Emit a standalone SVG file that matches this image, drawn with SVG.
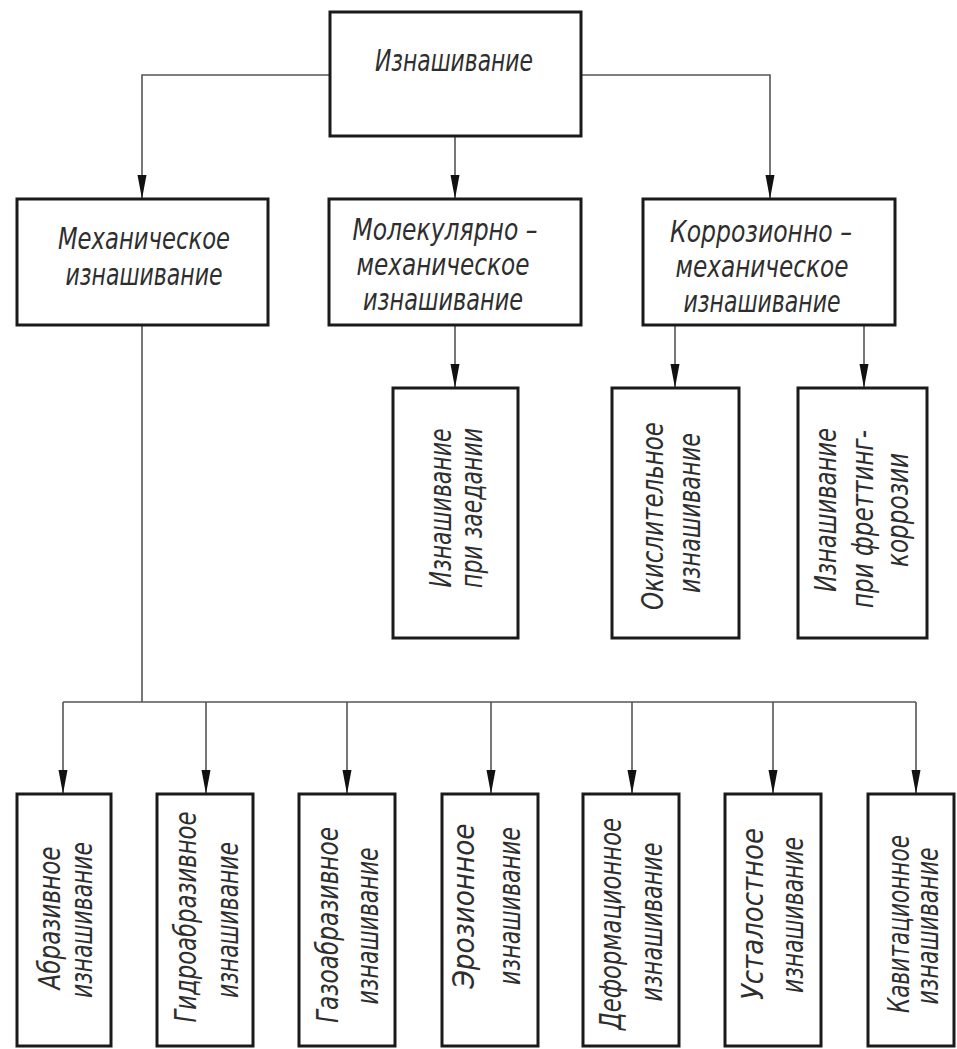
<svg xmlns="http://www.w3.org/2000/svg" width="957" height="1049" viewBox="0 0 957 1049">
<style>
.box{fill:#fff;stroke:#1a1a1a;stroke-width:3}
.conn{fill:none;stroke:#555;stroke-width:1.6}
.t{font-family:"DejaVu Sans","Liberation Sans",sans-serif;font-style:italic;font-weight:200;fill:#2e2e2e;text-anchor:middle}
.h{font-size:30px}
.v{font-size:30px}
</style>
<defs>
<marker id="arr" markerUnits="userSpaceOnUse" markerWidth="24" markerHeight="10" viewBox="0 0 24 10" refX="24" refY="5" orient="auto">
<path d="M0,0.5 L24,5 L0,9.5 Z" fill="#111"/>
</marker>
</defs>
<rect width="957" height="1049" fill="#fff"/>
<g id="connectors">
<path class="conn" d="M330,75 H142 V199" marker-end="url(#arr)"/>
<path class="conn" d="M581,75 H770 V199" marker-end="url(#arr)"/>
<path class="conn" d="M455,136 V199" marker-end="url(#arr)"/>
<path class="conn" d="M455,325 V388" marker-end="url(#arr)"/>
<path class="conn" d="M675,325 V388" marker-end="url(#arr)"/>
<path class="conn" d="M864,325 V388" marker-end="url(#arr)"/>
<path class="conn" d="M142,325 V702"/>
<path class="conn" d="M63,702 H916"/>
<path class="conn" d="M63,702 V794" marker-end="url(#arr)"/>
<path class="conn" d="M206,702 V794" marker-end="url(#arr)"/>
<path class="conn" d="M347,702 V794" marker-end="url(#arr)"/>
<path class="conn" d="M491,702 V794" marker-end="url(#arr)"/>
<path class="conn" d="M632,702 V794" marker-end="url(#arr)"/>
<path class="conn" d="M773,702 V794" marker-end="url(#arr)"/>
<path class="conn" d="M916,702 V794" marker-end="url(#arr)"/>
</g>
<g id="root">
<rect class="box" x="330" y="12" width="251" height="124"/>
<text class="t h" x="454" y="71" textLength="158" lengthAdjust="spacingAndGlyphs">Изнашивание</text>
</g>
<g id="mech">
<rect class="box" x="17" y="199" width="251" height="126"/>
<text class="t h" x="144" y="249" textLength="172" lengthAdjust="spacingAndGlyphs">Механическое</text>
<text class="t h" x="144" y="285" textLength="157" lengthAdjust="spacingAndGlyphs">изнашивание</text>
</g>
<g id="molmech">
<rect class="box" x="329" y="199" width="252" height="126"/>
<text class="t h" x="445" y="240" textLength="185" lengthAdjust="spacingAndGlyphs">Молекулярно –</text>
<text class="t h" x="443" y="275" textLength="173" lengthAdjust="spacingAndGlyphs">механическое</text>
<text class="t h" x="443" y="310" textLength="160" lengthAdjust="spacingAndGlyphs">изнашивание</text>
</g>
<g id="corrmech">
<rect class="box" x="643" y="199" width="252" height="126"/>
<text class="t h" x="761" y="242" textLength="182" lengthAdjust="spacingAndGlyphs">Коррозионно –</text>
<text class="t h" x="762" y="277" textLength="173" lengthAdjust="spacingAndGlyphs">механическое</text>
<text class="t h" x="762" y="312" textLength="157" lengthAdjust="spacingAndGlyphs">изнашивание</text>
</g>
<g id="zaed">
<rect class="box" x="393" y="388" width="125" height="250"/>
<text class="t v" transform="translate(451,508) rotate(-90)" textLength="159" lengthAdjust="spacingAndGlyphs">Изнашивание</text>
<text class="t v" transform="translate(482,508) rotate(-90)" textLength="160" lengthAdjust="spacingAndGlyphs">при заедании</text>
</g>
<g id="okisl">
<rect class="box" x="612" y="388" width="127" height="250"/>
<text class="t v" transform="translate(663,516) rotate(-90)" textLength="188" lengthAdjust="spacingAndGlyphs">Окислительное</text>
<text class="t v" transform="translate(700,513) rotate(-90)" textLength="160" lengthAdjust="spacingAndGlyphs">изнашивание</text>
</g>
<g id="fretting">
<rect class="box" x="798" y="388" width="129" height="250"/>
<text class="t v" transform="translate(836,510) rotate(-90)" textLength="164" lengthAdjust="spacingAndGlyphs">Изнашивание</text>
<text class="t v" transform="translate(873,519) rotate(-90)" textLength="178" lengthAdjust="spacingAndGlyphs">при фреттинг-</text>
<text class="t v" transform="translate(908,510) rotate(-90)" textLength="114" lengthAdjust="spacingAndGlyphs">коррозии</text>
</g>
<g id="abraz">
<rect class="box" x="17" y="794" width="94" height="252"/>
<text class="t v" transform="translate(60,918) rotate(-90)" textLength="143" lengthAdjust="spacingAndGlyphs">Абразивное</text>
<text class="t v" transform="translate(92,920) rotate(-90)" textLength="156" lengthAdjust="spacingAndGlyphs">изнашивание</text>
</g>
<g id="gidro">
<rect class="box" x="157" y="794" width="96" height="252"/>
<text class="t v" transform="translate(196,917) rotate(-90)" textLength="211" lengthAdjust="spacingAndGlyphs">Гидроабразивное</text>
<text class="t v" transform="translate(238,920) rotate(-90)" textLength="156" lengthAdjust="spacingAndGlyphs">изнашивание</text>
</g>
<g id="gazo">
<rect class="box" x="299" y="794" width="96" height="252"/>
<text class="t v" transform="translate(338,925) rotate(-90)" textLength="196" lengthAdjust="spacingAndGlyphs">Газоабразивное</text>
<text class="t v" transform="translate(378,926) rotate(-90)" textLength="157" lengthAdjust="spacingAndGlyphs">изнашивание</text>
</g>
<g id="eroz">
<rect class="box" x="442" y="794" width="96" height="252"/>
<text class="t v" transform="translate(474,906) rotate(-90)" textLength="165" lengthAdjust="spacingAndGlyphs">Эрозионное</text>
<text class="t v" transform="translate(520,906) rotate(-90)" textLength="158" lengthAdjust="spacingAndGlyphs">изнашивание</text>
</g>
<g id="deform">
<rect class="box" x="583" y="794" width="96" height="252"/>
<text class="t v" transform="translate(621,924) rotate(-90)" textLength="212" lengthAdjust="spacingAndGlyphs">Деформационное</text>
<text class="t v" transform="translate(662,922) rotate(-90)" textLength="159" lengthAdjust="spacingAndGlyphs">изнашивание</text>
</g>
<g id="ustal">
<rect class="box" x="725" y="794" width="96" height="252"/>
<text class="t v" transform="translate(763,914) rotate(-90)" textLength="172" lengthAdjust="spacingAndGlyphs">Усталостное</text>
<text class="t v" transform="translate(803,915) rotate(-90)" textLength="156" lengthAdjust="spacingAndGlyphs">изнашивание</text>
</g>
<g id="kavit">
<rect class="box" x="868" y="794" width="86" height="252"/>
<text class="t v" transform="translate(909,924) rotate(-90)" textLength="178" lengthAdjust="spacingAndGlyphs">Кавитационное</text>
<text class="t v" transform="translate(938,926) rotate(-90)" textLength="157" lengthAdjust="spacingAndGlyphs">изнашивание</text>
</g>
</svg>
